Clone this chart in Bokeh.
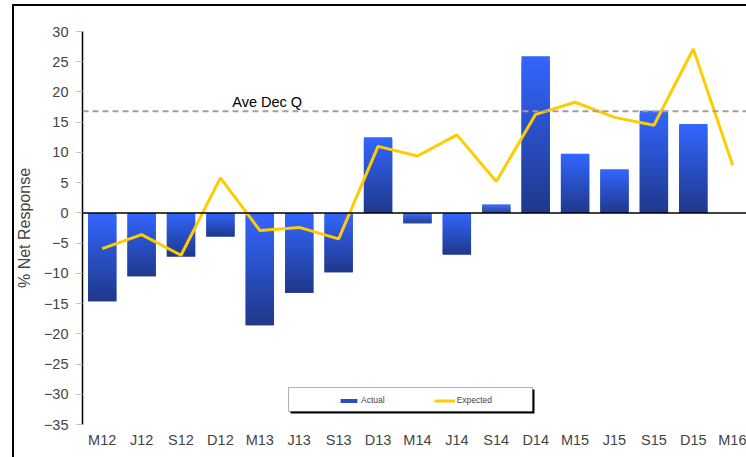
from bokeh.plotting import figure
from bokeh.models import (Range1d, FixedTicker, Span, Label, Legend, LegendItem,
                          BoxAnnotation, ColumnDataSource)
from bokeh.embed import file_html
from bokeh.resources import INLINE

# ---- data ----
categories = ["M12", "J12", "S12", "D12", "M13", "J13", "S13", "D13", "M14",
              "J14", "S14", "D14", "M15", "J15", "S15", "D15", "M16"]
actual = [-14.6, -10.5, -7.2, -3.9, -18.6, -13.2, -9.8, 12.5, -1.7,
          -6.9, 1.4, 25.9, 9.8, 7.2, 16.9, 14.7]
expected = [-5.9, -3.6, -7.0, 5.8, -2.9, -2.4, -4.3, 11.0, 9.4,
            12.9, 5.2, 16.3, 18.3, 15.8, 14.5, 27.1, 7.9]
ave_dec_q = 16.8
y_ticks = list(range(-35, 31, 5))

FONT = "Liberation Sans"
TOP_COL = (0x33, 0x66, 0xFF)
BOT_COL = (0x1F, 0x38, 0x8A)

p = figure(width=746, height=457, output_backend="svg", toolbar_location=None,
           x_range=Range1d(-0.5, 16.35), y_range=Range1d(-35, 30),
           min_border_left=82, min_border_right=0, min_border_top=31,
           min_border_bottom=33)
p.outline_line_color = None
p.grid.visible = False
p.background_fill_color = "white"
p.border_fill_alpha = 0
p.styles = {"box-shadow": "inset 12px 4px 0 0 white, inset 14px 6px 0 0 black"}

# ---- gradient bars: each bar drawn as slightly overlapping slices, light to dark ----
N = 32
lefts, rights, tops, bottoms, colors = [], [], [], [], []
hw = 0.36
for k in range(N):
    f = (k + 0.5) / N
    c = tuple(int(round(TOP_COL[j] + (BOT_COL[j] - TOP_COL[j]) * f)) for j in range(3))
    for i, v in enumerate(actual):
        hi, lo = max(v, 0), min(v, 0)
        lefts.append(i - hw); rights.append(i + hw)
        tops.append(hi - (hi - lo) * k / N)
        bottoms.append(hi - (hi - lo) * min(k + 2, N) / N)
        colors.append("#%02x%02x%02x" % c)
src = ColumnDataSource(dict(left=lefts, right=rights, top=tops, bottom=bottoms, color=colors))
bars_r = p.quad(left="left", right="right", top="top", bottom="bottom", source=src,
                fill_color="color", line_color=None)

# zero line
p.add_layout(Span(location=0, dimension="width", line_color="black", line_width=1.5))

# average dashed line
p.add_layout(Span(location=ave_dec_q, dimension="width", line_color="#A0A0A0",
                  line_width=2, line_dash="6 4"))
p.add_layout(Label(x=3.3, y=ave_dec_q + 1.6, text="Ave Dec Q", text_font=FONT,
                   text_font_size="14.5px", text_color="black",
                   text_baseline="alphabetic"))

# expected line
xs = list(range(len(expected)))
line_r = p.line(xs, expected, line_color="#FFCC00", line_width=3)

# ---- axes ----
yax = p.yaxis[0]
yax.ticker = FixedTicker(ticks=y_ticks)
yax.minor_tick_line_color = None
yax.major_tick_line_color = "#BFBFBF"
yax.major_tick_out = 6
yax.major_tick_in = 0
yax.axis_line_color = "black"
yax.axis_line_width = 1.5
yax.major_label_text_font = FONT
yax.major_label_text_font_size = "14.5px"
yax.major_label_standoff = 8
yax.axis_label = "% Net Response"
yax.axis_label_text_font = FONT
yax.axis_label_text_font_size = "16px"
yax.axis_label_text_font_style = "normal"
yax.axis_label_standoff = 8

xax = p.xaxis[0]
xax.ticker = FixedTicker(ticks=xs)
xax.major_label_overrides = {i: c for i, c in enumerate(categories)}
xax.axis_line_color = None
xax.major_tick_line_color = None
xax.major_tick_out = 0
xax.major_tick_in = 0
xax.minor_tick_line_color = None
xax.major_label_text_font = FONT
xax.major_label_text_font_size = "14.5px"
xax.major_label_standoff = 7

# ---- legend box with shadow ----
p.add_layout(BoxAnnotation(left=208, right=452, bottom=11, top=35,
                           left_units="screen", right_units="screen",
                           top_units="screen", bottom_units="screen",
                           fill_color="black", fill_alpha=1, line_color=None))
p.add_layout(BoxAnnotation(left=206, right=450, bottom=13, top=37,
                           left_units="screen", right_units="screen",
                           top_units="screen", bottom_units="screen",
                           fill_color="white", fill_alpha=1, line_color="black",
                           line_width=1))

mid_index = (N // 2) * len(actual)
legend = Legend(items=[LegendItem(label="Actual", renderers=[bars_r], index=mid_index),
                       LegendItem(label="Expected", renderers=[line_r])],
                location=(256, 19), orientation="horizontal",
                label_text_font=FONT, label_text_font_size="8.5px",
                glyph_width=21, glyph_height=5, label_height=10,
                label_standoff=2, spacing=49, padding=0, margin=0,
                border_line_color=None, background_fill_alpha=0)
p.add_layout(legend, "center")

open("out.html", "w").write(file_html(p, INLINE))
